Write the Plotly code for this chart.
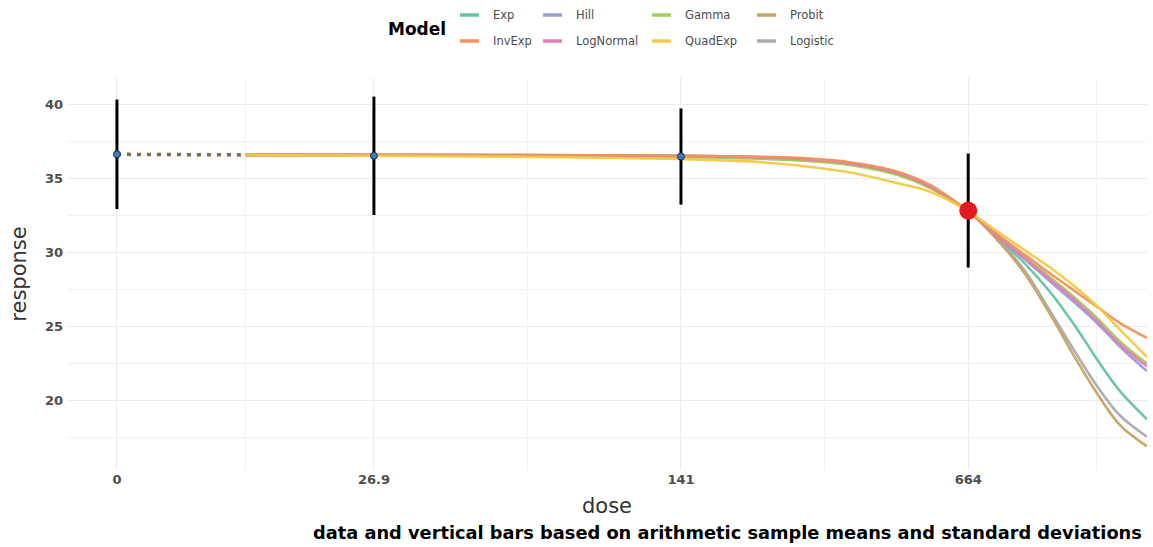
import math
import plotly.graph_objects as go

# ---- data -------------------------------------------------------------
models = ["Exp", "InvExp", "Hill", "LogNormal", "Gamma", "QuadExp", "Probit", "Logistic"]
model_colors = ["#66c2a5", "#f3925e", "#9b9fd0", "#e27cbf", "#a0d05a", "#f4cb45", "#c9a365", "#ababab"]
# order in which the curves are stacked (first drawn is at the bottom)
draw_order = ["Logistic", "Exp", "Hill", "Gamma", "Probit", "LogNormal", "InvExp", "QuadExp"]

dose_levels = [0, 26.9, 141, 664]
mean_response = [36.6, 36.5, 36.45, 32.8]
sd_response = [3.7, 4.0, 3.25, 3.85]

# fitted model curves, evaluated on a common dose grid
curve_dose = [13.45, 26.9, 61.6, 141, 204, 265, 347, 454, 543, 664,
              789, 903, 1033, 1182, 1330, 1506, 1742]
fit_exp = [36.56, 36.54, 36.52, 36.43, 36.33, 36.2, 35.95, 35.25, 34.33, 32.75,
           30.8, 29.2, 27.3, 25.0, 22.75, 20.6, 18.7]
fit_invexp = [36.56, 36.56, 36.55, 36.5, 36.45, 36.36, 36.08, 35.43, 34.5, 32.75,
              31.05, 29.8, 28.55, 27.35, 26.3, 25.2, 24.2]
fit_hill = [36.56, 36.55, 36.53, 36.47, 36.4, 36.28, 36.0, 35.3, 34.4, 32.75,
            30.9, 29.5, 28.0, 26.55, 25.2, 23.6, 21.95]
fit_lognormal = [36.56, 36.55, 36.54, 36.49, 36.42, 36.3, 36.02, 35.35, 34.42, 32.75,
                 30.9, 29.55, 28.15, 26.72, 25.35, 23.75, 22.28]
fit_gamma = [36.56, 36.54, 36.52, 36.44, 36.35, 36.2, 35.9, 35.2, 34.3, 32.75,
             30.95, 29.65, 28.3, 26.9, 25.55, 23.95, 22.45]
fit_quadexp = [36.56, 36.5, 36.42, 36.28, 36.12, 35.85, 35.4, 34.64, 34.05, 32.75,
               31.25, 30.1, 28.95, 27.65, 26.35, 24.75, 22.9]
fit_probit = [36.56, 36.55, 36.55, 36.5, 36.43, 36.3, 36.0, 35.3, 34.35, 32.75,
              30.6, 28.5, 25.8, 22.85, 20.45, 18.3, 16.87]
fit_logistic = [36.56, 36.55, 36.55, 36.5, 36.43, 36.3, 35.98, 35.28, 34.35, 32.75,
                30.7, 28.7, 26.0, 23.25, 20.95, 18.95, 17.52]
model_fits = [fit_exp, fit_invexp, fit_hill, fit_lognormal, fit_gamma,
              fit_quadexp, fit_probit, fit_logistic]

x_tick_labels = ["0", "26.9", "141", "664"]
y_ticks = [20, 25, 30, 35, 40]
y_minor = [17.5, 22.5, 27.5, 32.5, 37.5]

# ---- layout geometry ----------------------------------------------------
W, H = 1153, 547
L, R, T, B = 67, 6, 78, 77
PW, PH = W - L - R, H - T - B

# the control group (dose 0) is shown a quarter of the first dose on the log axis
zero_pos = dose_levels[1] / 4
plot_dose = [zero_pos] + dose_levels[1:]
curve_start = dose_levels[1] / 2

x_minor = [curve_start,
           math.sqrt(dose_levels[1] * dose_levels[2]),
           math.sqrt(dose_levels[2] * dose_levels[3]),
           dose_levels[3] * 2]


def px_x(p):
    return (p - L) / PW


def px_y(p):
    return (H - B - p) / PH


fits_by_name = dict(zip(models, model_fits))
color_by_name = dict(zip(models, model_colors))

fig = go.Figure()

# dotted connector from the control group to the start of the curves
fig.add_trace(go.Scatter(
    x=[zero_pos, curve_start], y=[mean_response[0], fits_by_name["Exp"][0]],
    mode="lines", line=dict(color="#7a6d4f", width=3.5, dash="4px,6px"),
    showlegend=False, hoverinfo="skip"))

# model curves
for name in draw_order:
    fig.add_trace(go.Scatter(
        x=curve_dose, y=fits_by_name[name], mode="lines", name=name,
        line=dict(color=color_by_name[name], width=2.6, shape="spline", smoothing=1.0),
        opacity=0.95, showlegend=False))

# group means with +/- 1 SD bars
fig.add_trace(go.Scatter(
    x=plot_dose, y=mean_response, mode="markers",
    error_y=dict(type="data", array=sd_response, visible=True,
                 color="black", thickness=3, width=0),
    marker=dict(size=7, color="#3b7cc0", line=dict(color="#1c2e45", width=1)),
    showlegend=False))

# highlighted top-dose group
fig.add_trace(go.Scatter(
    x=[plot_dose[-1]], y=[mean_response[-1]], mode="markers",
    marker=dict(size=18, color="#e41a1c"), showlegend=False))

# ---- legend drawn in the header -----------------------------------------
annotations = []
shapes = []
annotations.append(dict(
    text="<b>Model</b>", x=px_x(386), y=px_y(29), xref="paper", yref="paper",
    xanchor="left", yanchor="middle", showarrow=False,
    font=dict(family="DejaVu Sans", size=17, color="black")))

col_x = [460, 543, 652, 757]
row_y = [15, 41]
for i, (name, color) in enumerate(zip(models, model_colors)):
    cx = col_x[i // 2]
    cy = row_y[i % 2]
    shapes.append(dict(type="line", xref="paper", yref="paper",
                       x0=px_x(cx), x1=px_x(cx + 19), y0=px_y(cy), y1=px_y(cy),
                       line=dict(color=color, width=3.5)))
    annotations.append(dict(
        text=name, x=px_x(cx + 31), y=px_y(cy), xref="paper", yref="paper",
        xanchor="left", yanchor="middle", showarrow=False,
        font=dict(family="DejaVu Sans", size=11.5, color="#4d4d4d")))

annotations.append(dict(
    text="<b>data and vertical bars based on arithmetic sample means and standard deviations</b>",
    x=px_x(1144), y=px_y(532), xref="paper", yref="paper",
    xanchor="right", yanchor="middle", showarrow=False,
    font=dict(family="DejaVu Sans", size=17.8, color="black")))

fig.update_layout(
    width=W, height=H,
    margin=dict(l=L, r=R, t=T, b=B),
    paper_bgcolor="white", plot_bgcolor="white",
    showlegend=False,
    annotations=annotations, shapes=shapes,
    font=dict(family="DejaVu Sans"),
)

fig.update_xaxes(
    type="log",
    range=[math.log10(zero_pos) - 50 / 427.3, math.log10(dose_levels[-1]) + 179 / 427.3],
    tickmode="array", tickvals=plot_dose, ticktext=x_tick_labels,
    tickfont=dict(family="DejaVu Sans", size=13, color="#4d4d4d", weight="bold"),
    showgrid=True, gridcolor="#ebebeb", gridwidth=1.2,
    minor=dict(tickmode="array", tickvals=x_minor, showgrid=True,
               gridcolor="#f2f2f2", gridwidth=1),
    zeroline=False, showline=False, ticks="",
    title=dict(text="dose", font=dict(family="DejaVu Sans", size=21, color="#333333"),
               standoff=12),
)

fig.update_yaxes(
    range=[20 - (470 - 400) / 14.8, 40 + (104 - 78) / 14.8],
    tickmode="array", tickvals=y_ticks,
    tickfont=dict(family="DejaVu Sans", size=13, color="#4d4d4d", weight="bold"),
    ticklabelstandoff=3,
    showgrid=True, gridcolor="#ebebeb", gridwidth=1.2,
    minor=dict(tickmode="array", tickvals=y_minor, showgrid=True,
               gridcolor="#f2f2f2", gridwidth=1),
    zeroline=False, showline=False, ticks="",
    title=dict(text="response", font=dict(family="DejaVu Sans", size=21, color="#333333"),
               standoff=12),
)

fig.write_html("out.html")
